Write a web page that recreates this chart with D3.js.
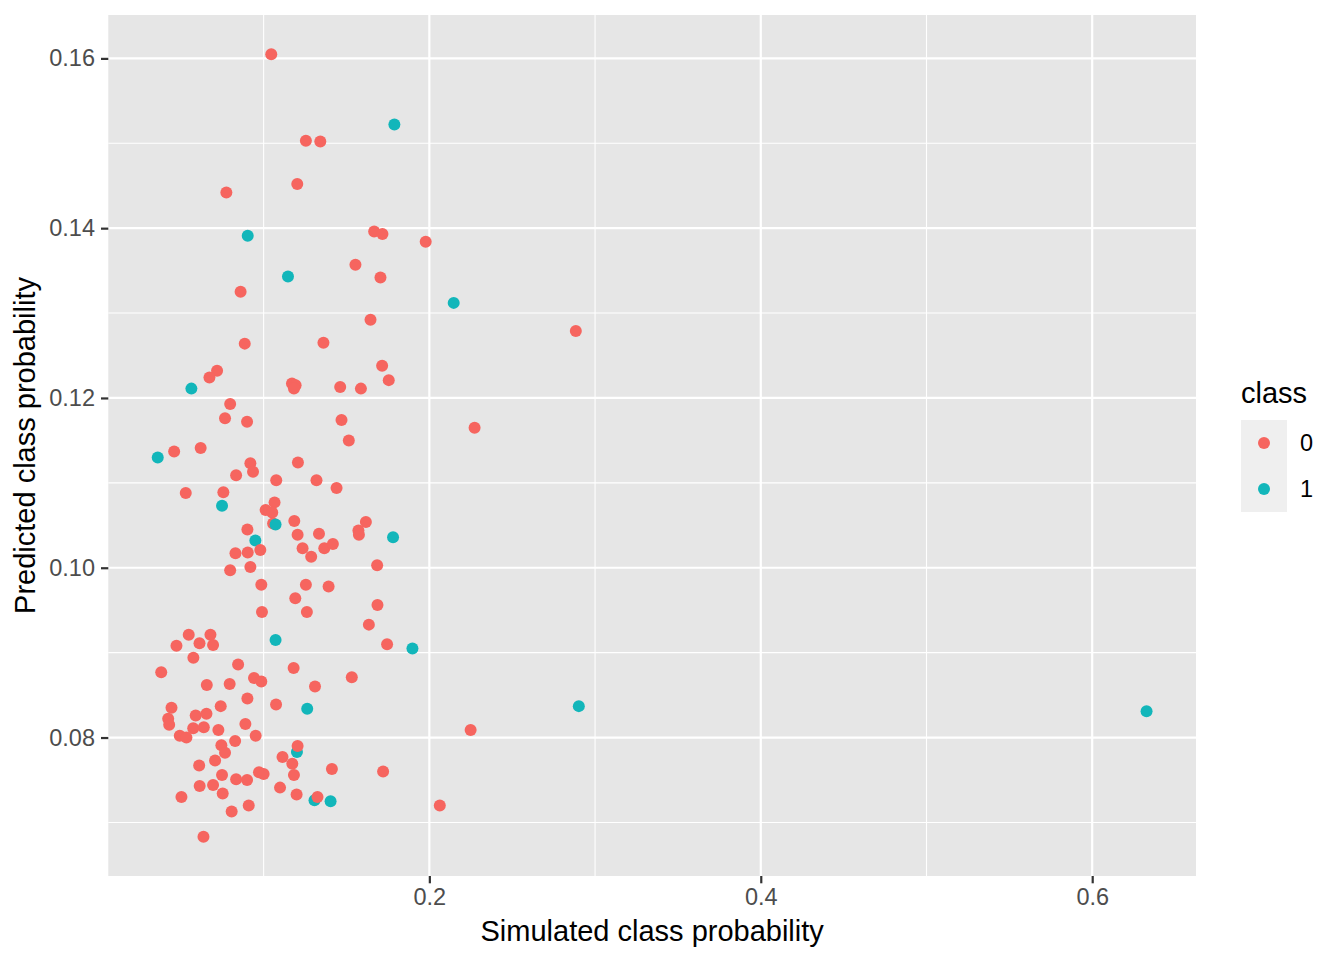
<!DOCTYPE html>
<html>
<head>
<meta charset="utf-8">
<script src="https://cdn.jsdelivr.net/npm/d3@7"></script>
<style>
  html, body { margin: 0; padding: 0; background: #ffffff; }
  svg { display: block; font-family: "Liberation Sans", Arial, Helvetica, sans-serif; }
</style>
</head>
<body>
<svg id="chart" width="1344" height="960"></svg>
<script>
// ---- data ----
const classLabels = ["0", "1"];
const classColors = ["#F6655F", "#12B6BA"];
const xTicks = [0.2, 0.4, 0.6];
const yTicks = [0.08, 0.10, 0.12, 0.14, 0.16];
const xMinor = [0.1, 0.3, 0.5];
const yMinor = [0.07, 0.09, 0.11, 0.13, 0.15];

// class 1 (teal) points drawn underneath
const sim1 = [0.1789, 0.0904, 0.1147, 0.2147, 0.0564, 0.0361, 0.0749, 0.0950, 0.1781,
              0.1072, 0.1898, 0.1263, 0.2902, 0.6328, 0.1201, 0.1307, 0.1404];
const pred1 = [0.1522, 0.1391, 0.1343, 0.1312, 0.1211, 0.1130, 0.1073, 0.1032, 0.1036,
               0.0915, 0.0905, 0.0834, 0.0837, 0.0831, 0.0783, 0.0726, 0.0725];

// class 0 (red) points
const sim0 = [0.1046, 0.1255, 0.1342, 0.1203, 0.0775, 0.1667, 0.1717, 0.1978, 0.1554, 0.1705,
              0.0861, 0.2884, 0.1645, 0.0886, 0.1361, 0.1715, 0.1755, 0.0719, 0.0673, 0.1171,
              0.1193, 0.1183, 0.1462, 0.1587, 0.0798, 0.0767, 0.0900, 0.1470, 0.1514, 0.2273,
              0.0460, 0.0620, 0.0920, 0.0936, 0.0834, 0.1207, 0.1076, 0.1319, 0.1440, 0.0530,
              0.0757, 0.1066, 0.1012, 0.1052, 0.1057, 0.1185, 0.1617, 0.1572, 0.1575, 0.0902,
              0.1205, 0.1334, 0.0830, 0.0904, 0.0980, 0.1235, 0.1366, 0.1418, 0.1287, 0.0798,
              0.0920, 0.1685, 0.0986, 0.1255, 0.1392, 0.1191, 0.1687, 0.0990, 0.1261, 0.1635,
              0.1745, 0.0548, 0.0679, 0.0474, 0.0613, 0.0695, 0.0576, 0.0382, 0.0846, 0.1181,
              0.1532, 0.0657, 0.0795, 0.0942, 0.0986, 0.1310, 0.0902, 0.1075, 0.0741, 0.0444,
              0.0424, 0.0430, 0.0590, 0.0655, 0.0575, 0.0639, 0.0727, 0.0890, 0.0494, 0.0534,
              0.0952, 0.2249, 0.0745, 0.0828, 0.0767, 0.1205, 0.1114, 0.1173, 0.1183, 0.1412,
              0.1721, 0.0611, 0.0707, 0.0749, 0.0834, 0.0900, 0.0972, 0.1000, 0.0614, 0.0695,
              0.0753, 0.1099, 0.1199, 0.1325, 0.0504, 0.0807, 0.0910, 0.2063, 0.0637];
const pred0 = [0.1605, 0.1503, 0.1502, 0.1452, 0.1442, 0.1396, 0.1393, 0.1384, 0.1357, 0.1342,
               0.1325, 0.1279, 0.1292, 0.1264, 0.1265, 0.1238, 0.1221, 0.1232, 0.1224, 0.1217,
               0.1215, 0.1211, 0.1213, 0.1211, 0.1193, 0.1176, 0.1172, 0.1174, 0.1150, 0.1165,
               0.1137, 0.1141, 0.1123, 0.1113, 0.1109, 0.1124, 0.1103, 0.1103, 0.1094, 0.1088,
               0.1089, 0.1077, 0.1068, 0.1065, 0.1052, 0.1055, 0.1054, 0.1044, 0.1039, 0.1045,
               0.1039, 0.1040, 0.1017, 0.1018, 0.1021, 0.1023, 0.1023, 0.1028, 0.1013, 0.0997,
               0.1001, 0.1003, 0.0980, 0.0980, 0.0978, 0.0964, 0.0956, 0.0948, 0.0948, 0.0933,
               0.0910, 0.0921, 0.0921, 0.0908, 0.0911, 0.0909, 0.0894, 0.0877, 0.0886, 0.0882,
               0.0871, 0.0862, 0.0863, 0.0870, 0.0866, 0.0860, 0.0846, 0.0839, 0.0837, 0.0835,
               0.0822, 0.0815, 0.0826, 0.0828, 0.0811, 0.0812, 0.0809, 0.0816, 0.0802, 0.0800,
               0.0802, 0.0809, 0.0791, 0.0796, 0.0782, 0.0790, 0.0777, 0.0769, 0.0756, 0.0763,
               0.0760, 0.0767, 0.0773, 0.0756, 0.0751, 0.0750, 0.0759, 0.0757, 0.0743, 0.0744,
               0.0734, 0.0741, 0.0733, 0.0730, 0.0730, 0.0713, 0.0720, 0.0720, 0.0683];

// one teal point that sits on top of a red one
const simTop1 = [0.1072];
const predTop1 = [0.1051];

// ---- build point list in drawing order ----
const points = [];
sim1.forEach((v, i) => points.push({x: v, y: pred1[i], c: 1}));
sim0.forEach((v, i) => points.push({x: v, y: pred0[i], c: 0}));
simTop1.forEach((v, i) => points.push({x: v, y: predTop1[i], c: 1}));

// ---- layout ----
const panel = {left: 108.3, right: 1196, top: 15, bottom: 876};
const svg = d3.select("#chart");

function expand(ext, f) { const d = (ext[1] - ext[0]) * f; return [ext[0] - d, ext[1] + d]; }
const x = d3.scaleLinear().domain(expand(d3.extent(points, d => d.x), 0.05)).range([panel.left, panel.right]);
const y = d3.scaleLinear().domain(expand(d3.extent(points, d => d.y), 0.05)).range([panel.bottom, panel.top]);

// panel background
svg.append("rect")
  .attr("x", panel.left).attr("y", panel.top)
  .attr("width", panel.right - panel.left).attr("height", panel.bottom - panel.top)
  .attr("fill", "#E6E6E6");

const grid = svg.append("g");
// minor grid
grid.selectAll(".xminor").data(xMinor).enter().append("line")
  .attr("x1", d => x(d)).attr("x2", d => x(d)).attr("y1", panel.top).attr("y2", panel.bottom)
  .attr("stroke", "#fff").attr("stroke-width", 1.1);
grid.selectAll(".yminor").data(yMinor).enter().append("line")
  .attr("y1", d => y(d)).attr("y2", d => y(d)).attr("x1", panel.left).attr("x2", panel.right)
  .attr("stroke", "#fff").attr("stroke-width", 1.1);
// major grid
grid.selectAll(".xmajor").data(xTicks).enter().append("line")
  .attr("x1", d => x(d)).attr("x2", d => x(d)).attr("y1", panel.top).attr("y2", panel.bottom)
  .attr("stroke", "#fff").attr("stroke-width", 2.2);
grid.selectAll(".ymajor").data(yTicks).enter().append("line")
  .attr("y1", d => y(d)).attr("y2", d => y(d)).attr("x1", panel.left).attr("x2", panel.right)
  .attr("stroke", "#fff").attr("stroke-width", 2.2);

// points
svg.append("g").selectAll("circle").data(points).enter().append("circle")
  .attr("cx", d => x(d.x)).attr("cy", d => y(d.y)).attr("r", 6)
  .attr("fill", d => classColors[d.c]);

// axes
const xAxis = d3.axisBottom(x).tickValues(xTicks).tickFormat(d3.format(".1f"))
  .tickSize(7.3).tickSizeOuter(0).tickPadding(5.5);
const gx = svg.append("g").attr("transform", `translate(0,${panel.bottom})`).call(xAxis);
gx.select(".domain").remove();
gx.selectAll(".tick line").attr("stroke", "#333333").attr("stroke-width", 2.2);
gx.selectAll(".tick text").attr("fill", "#4D4D4D").attr("font-size", "23.5px")
  .attr("font-family", "Liberation Sans, Arial, sans-serif");

const yAxis = d3.axisLeft(y).tickValues(yTicks).tickFormat(d3.format(".2f"))
  .tickSize(7.3).tickSizeOuter(0).tickPadding(6);
const gy = svg.append("g").attr("transform", `translate(${panel.left},0)`).call(yAxis);
gy.select(".domain").remove();
gy.selectAll(".tick line").attr("stroke", "#333333").attr("stroke-width", 2.2);
gy.selectAll(".tick text").attr("fill", "#4D4D4D").attr("font-size", "23.5px")
  .attr("font-family", "Liberation Sans, Arial, sans-serif");

// axis titles
svg.append("text")
  .attr("x", (panel.left + panel.right) / 2).attr("y", 941)
  .attr("text-anchor", "middle").attr("font-size", "29px").attr("fill", "#000")
  .text("Simulated class probability");
svg.append("text")
  .attr("transform", `translate(35,${(panel.top + panel.bottom) / 2}) rotate(-90)`)
  .attr("text-anchor", "middle").attr("font-size", "29px").attr("fill", "#000")
  .text("Predicted class probability");

// legend
const legend = svg.append("g").attr("transform", "translate(1241,0)");
legend.append("text").attr("x", 0).attr("y", 403)
  .attr("font-size", "29px").attr("fill", "#000").text("class");
const keySize = 46;
classLabels.forEach((lab, i) => {
  const top = 420 + i * keySize;
  legend.append("rect").attr("x", 0).attr("y", top).attr("width", keySize).attr("height", keySize)
    .attr("fill", "#EFEFEF");
  legend.append("circle").attr("cx", keySize / 2).attr("cy", top + keySize / 2).attr("r", 6)
    .attr("fill", classColors[i]);
  legend.append("text").attr("x", 59).attr("y", top + keySize / 2 + 8.4)
    .attr("font-size", "23.5px").attr("fill", "#000").text(lab);
});
</script>
</body>
</html>
